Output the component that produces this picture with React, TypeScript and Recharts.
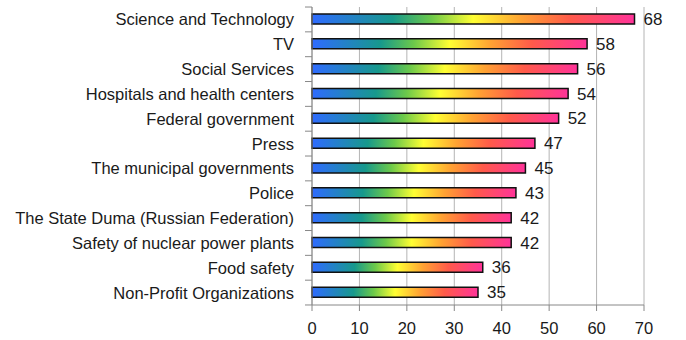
import { BarChart, Bar, XAxis, YAxis, CartesianGrid, LabelList } from "recharts";

const categories = [
  "Science and Technology",
  "TV",
  "Social Services",
  "Hospitals and health centers",
  "Federal government",
  "Press",
  "The municipal governments",
  "Police",
  "The State Duma (Russian Federation)",
  "Safety of nuclear power plants",
  "Food safety",
  "Non-Profit Organizations",
];
const values = [68, 58, 56, 54, 52, 47, 45, 43, 42, 42, 36, 35];
const xTicks = [0, 10, 20, 30, 40, 50, 60, 70];

const data = categories.map((name, i) => ({ name, value: values[i] }));

const FONT = "'Liberation Sans', sans-serif";

// category label plus the small tick marks that sit on band boundaries
function CategoryTick(props: any) {
  const { x, y, payload, index } = props;
  const half = 12.4;
  return (
    <g>
      <text
        x={x - 10}
        y={y}
        textAnchor="end"
        dominantBaseline="central"
        fontSize={16.5}
        fontFamily={FONT}
        fill="#1a1a1a"
      >
        {payload.value}
      </text>
      <line x1={x + 1} x2={x + 8} y1={y - half} y2={y - half} stroke="#888" />
      {index === categories.length - 1 && (
        <line x1={x + 1} x2={x + 8} y1={y + half} y2={y + half} stroke="#888" />
      )}
    </g>
  );
}

export default function App() {
  return (
    <div style={{ position: "absolute", left: 0, top: 0 }}>
      <BarChart
        width={686}
        height={340}
        data={data}
        layout="vertical"
        margin={{ top: 7, right: 42, bottom: 5, left: 0 }}
        barCategoryGap={0}
      >
        <defs>
          <linearGradient id="rainbow" x1="0" y1="0" x2="1" y2="0">
            <stop offset="0" stopColor="#2f6bff" />
            <stop offset="0.25" stopColor="#17998c" />
            <stop offset="0.37" stopColor="#6cc94a" />
            <stop offset="0.5" stopColor="#ffff33" />
            <stop offset="0.65" stopColor="#ffa233" />
            <stop offset="0.8" stopColor="#ff5a4a" />
            <stop offset="1" stopColor="#ff3399" />
          </linearGradient>
        </defs>
        <CartesianGrid horizontal={false} stroke="#b4b4b4" />
        <XAxis
          type="number"
          domain={[0, 70]}
          ticks={xTicks}
          tickSize={6}
          tickMargin={11}
          stroke="#888"
          tick={{ fontSize: 16.5, fontFamily: FONT, fill: "#1a1a1a" }}
          height={30}
          interval={0}
        />
        <YAxis
          type="category"
          dataKey="name"
          width={312}
          stroke="#888"
          tickLine={false}
          tick={<CategoryTick />}
          interval={0}
        />
        <Bar
          dataKey="value"
          fill="url(#rainbow)"
          stroke="#111"
          strokeWidth={1.5}
          barSize={10}
          isAnimationActive={false}
        >
          <LabelList
            dataKey="value"
            position="right"
            offset={9}
            fontSize={17}
            fontFamily={FONT}
            fill="#1a1a1a"
          />
        </Bar>
      </BarChart>
    </div>
  );
}
